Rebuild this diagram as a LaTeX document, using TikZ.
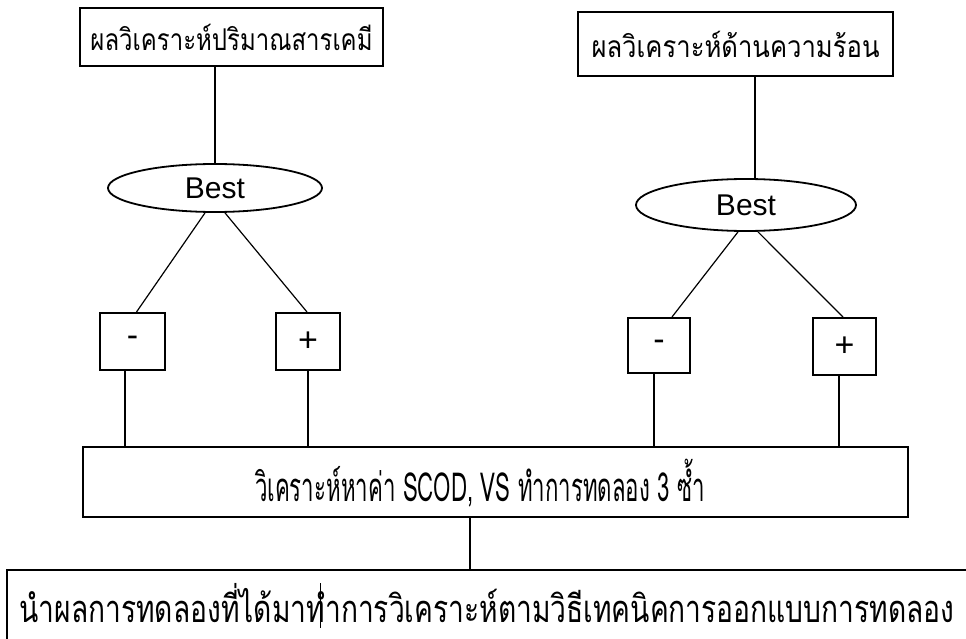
\documentclass[tikz,border=0pt]{standalone}
\usepackage{fontspec}
\setmainfont{Liberation Sans}
\newfontfamily\thai[Script=Thai]{Loma}
\usetikzlibrary{shapes.geometric}
\newcommand{\fitw}[2]{\resizebox{#1}{\height}{#2}}
\begin{document}
\begin{tikzpicture}[x=1pt,y=-1pt,
  boxstyle/.style={draw, line width=2pt, rectangle, inner sep=0pt},
  boxline/.style={line width=2pt},
  ovalstyle/.style={draw, line width=1.8pt, ellipse, inner sep=0pt, font=\fontsize{30}{32}\selectfont},
  signstyle/.style={draw, line width=2pt, rectangle, inner sep=0pt, font=\fontsize{34}{36}\selectfont},
  labeltext/.style={inner sep=0pt},
  wire/.style={line width=1.2pt}]
\useasboundingbox (0,0) rectangle (966,639);
\begin{scope}
\clip (0,0) rectangle (966,639);
% top boxes
\node[boxstyle, minimum width=303pt, minimum height=58pt] (chem) at (231.5,37)
  {\thai\fontsize{30}{34}\selectfont\fitw{282pt}{ผลวิเคราะห์ปริมาณสารเคมี}};
\node[boxstyle, minimum width=315pt, minimum height=64pt] (heat) at (735.5,44)
  {\thai\fontsize{30}{34}\selectfont\fitw{288pt}{ผลวิเคราะห์ด้านความร้อน}};
% ellipses
\node[ovalstyle, minimum width=214pt, minimum height=48pt] (best1) at (215,188) {Best};
\node[ovalstyle, minimum width=220pt, minimum height=52pt] (best2) at (746,205) {Best};
% sign boxes
\node[signstyle, minimum width=65pt, minimum height=57pt] (lm) at (132.5,341.5) {-};
\node[signstyle, minimum width=64pt, minimum height=57pt] (lp) at (308,341.5) {+};
\node[signstyle, minimum width=62pt, minimum height=55pt] (rm) at (659,345.5) {-};
\node[signstyle, minimum width=63pt, minimum height=57pt] (rp) at (844.5,346.5) {+};
% middle box
\node[boxstyle, minimum width=825pt, minimum height=70pt] (mid) at (495.5,482) {};
\node[labeltext, font=\thai\fontsize{40}{44}\selectfont] (midtext) at (480,483)
  {\fitw{450pt}{วิเคราะห์หาค่า SCOD, VS ทำการทดลอง 3 ซ้ำ}};
% bottom box (runs off the page): only its top and left sides are seen
\coordinate (finaltop) at (470,570);
\draw[boxline] (7,680) |- (1000,570);
\node[labeltext, font=\thai\fontsize{38}{42}\selectfont] (finaltext) at (487,603)
  {\fitw{935pt}{นำผลการทดลองที่ได้มาทำการวิเคราะห์ตามวิธีเทคนิคการออกแบบการทดลอง}};
% connectors
\draw[wire] (chem.south -| best1.north) -- (best1.north);
\draw[wire] (heat.south -| 755,0) -- (best2.north -| 755,0);
\draw[wire] ([xshift=-10pt]best1.south) -- ([xshift=4pt]lm.north);
\draw[wire] ([xshift=10pt]best1.south) -- ([xshift=-1pt]lp.north);
\draw[wire] ([xshift=-8pt]best2.south) -- ([xshift=13pt]rm.north);
\draw[wire] ([xshift=12pt]best2.south) -- ([xshift=-1.5pt]rp.north);
\draw[wire] ([xshift=-7.5pt]lm.south) -- ([xshift=-7.5pt]lm.south |- mid.north);
\draw[wire] (lp.south) -- (lp.south |- mid.north);
\draw[wire] ([xshift=-5pt]rm.south) -- ([xshift=-5pt]rm.south |- mid.north);
\draw[wire] ([xshift=-5.5pt]rp.south) -- ([xshift=-5.5pt]rp.south |- mid.north);
\draw[wire] (finaltop |- mid.south) -- (finaltop);
\coordinate (strayA) at (320,583);
\coordinate (strayB) at (320,628);
\draw[line width=0.8pt] (strayA) -- (strayB);
\end{scope}
\end{tikzpicture}
\end{document}
